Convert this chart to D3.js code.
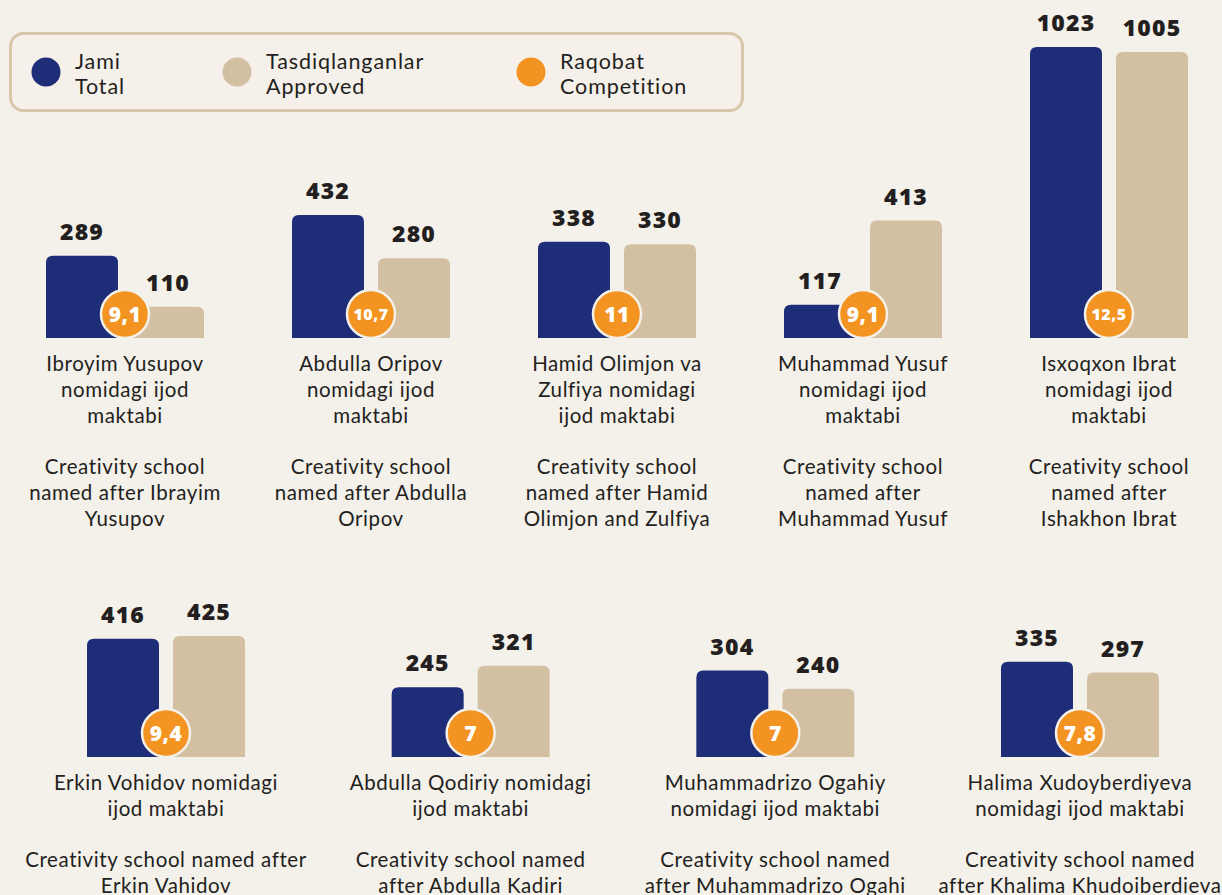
<!DOCTYPE html>
<html>
<head>
<meta charset="utf-8">
<script src="https://cdn.jsdelivr.net/npm/d3@7"></script>
<style>
  body { margin: 0; background: #f4f0ea; }
  svg { display: block; }
</style>
</head>
<body>
<div id="chart"></div>
<script>
// Data
const topUz = [
  ['Ibroyim Yusupov', 'nomidagi ijod', 'maktabi'],
  ['Abdulla Oripov', 'nomidagi ijod', 'maktabi'],
  ['Hamid Olimjon va', 'Zulfiya nomidagi', 'ijod maktabi'],
  ['Muhammad Yusuf', 'nomidagi ijod', 'maktabi'],
  ['Isxoqxon Ibrat', 'nomidagi ijod', 'maktabi']
]
const topEn = [
  ['Creativity school', 'named after Ibrayim', 'Yusupov'],
  ['Creativity school', 'named after Abdulla', 'Oripov'],
  ['Creativity school', 'named after Hamid', 'Olimjon and Zulfiya'],
  ['Creativity school', 'named after', 'Muhammad Yusuf'],
  ['Creativity school', 'named after', 'Ishakhon Ibrat']
]
const topTotal = [289, 432, 338, 117, 1023]
const topApproved = [110, 280, 330, 413, 1005]
const topCompetition = ['9,1', '10,7', '11', '9,1', '12,5']

const bottomUz = [
  ['Erkin Vohidov nomidagi', 'ijod maktabi'],
  ['Abdulla Qodiriy nomidagi', 'ijod maktabi'],
  ['Muhammadrizo Ogahiy', 'nomidagi ijod maktabi'],
  ['Halima Xudoyberdiyeva', 'nomidagi ijod maktabi']
]
const bottomEn = [
  ['Creativity school named after', 'Erkin Vahidov'],
  ['Creativity school named', 'after Abdulla Kadiri'],
  ['Creativity school named', 'after Muhammadrizo Ogahi'],
  ['Creativity school named', 'after Khalima Khudoiberdieva']
]
const bottomTotal = [416, 245, 304, 335]
const bottomApproved = [425, 321, 240, 297]
const bottomCompetition = ['9,4', '7', '7', '7,8']

const seriesKeys = ['total', 'approved']
const legendItems = [
  { key: 'total', lines: ['Jami', 'Total'] },
  { key: 'approved', lines: ['Tasdiqlanganlar', 'Approved'] },
  { key: 'competition', lines: ['Raqobat', 'Competition'] }
]

const colors = { total: '#1e2d78', approved: '#d3c0a2', competition: '#f39322' }
const textColor = '#231f20'
const labelFont = 'Lato, "Open Sans", sans-serif'
const numFont = '"Open Sans", Lato, sans-serif'

// Dimensions
const width = 1222
const height = 895

const svg = d3.select('#chart')
  .append('svg')
  .attr('width', width)
  .attr('height', height)

svg.append('rect')
  .attr('width', width)
  .attr('height', height)
  .attr('fill', '#f4f0ea')

// Scales
const yScale = d3.scaleLinear()
  .domain([0, 1023])
  .range([0, 291])

const inner = d3.scaleBand()
  .domain(seriesKeys)
  .range([-79, 79])
  .paddingInner(0.163)

const topX = d3.scalePoint().domain(d3.range(5)).range([125, 1109])
const bottomX = d3.scalePoint().domain(d3.range(4)).range([166, 1080])

// path with rounded top corners only
function barPath(x, y, w, h, r) {
  r = Math.min(r, h, w / 2)
  return `M${x},${y + h}V${y + r}Q${x},${y} ${x + r},${y}H${x + w - r}Q${x + w},${y} ${x + w},${y + r}V${y + h}Z`
}

function drawRow(xScale, baseline, total, approved, comp, uz, en) {
  const rows = total.map((t, i) => ({ i, total: t, approved: approved[i], comp: comp[i], uz: uz[i], en: en[i] }))

  const groups = svg.append('g')
    .selectAll('g')
    .data(rows)
    .join('g')
    .attr('transform', d => `translate(${xScale(d.i)}, 0)`)

  seriesKeys.forEach(k => {
    groups.append('path')
      .attr('d', d => barPath(inner(k), baseline - yScale(d[k]), inner.bandwidth(), yScale(d[k]), 7))
      .attr('fill', colors[k])

    groups.append('text')
      .attr('x', inner(k) + inner.bandwidth() / 2)
      .attr('y', d => baseline - yScale(d[k]) - 16)
      .attr('text-anchor', 'middle')
      .attr('font-family', numFont)
      .attr('font-weight', 800)
      .attr('font-size', 23)
      .attr('letter-spacing', 1.2)
      .attr('fill', textColor)
      .text(d => d[k])
  })

  // competition circle
  groups.append('circle')
    .attr('cx', 0)
    .attr('cy', baseline - 24)
    .attr('r', 24)
    .attr('fill', colors.competition)
    .attr('stroke', '#f4f0ea')
    .attr('stroke-width', 2.5)

  groups.append('text')
    .attr('x', 0)
    .attr('y', baseline - 24)
    .attr('dy', '0.36em')
    .attr('text-anchor', 'middle')
    .attr('font-family', numFont)
    .attr('font-weight', 800)
    .attr('font-size', d => d.comp.length > 3 ? 16 : 21)
    .attr('letter-spacing', 0.5)
    .attr('fill', '#fff')
    .text(d => d.comp)

  // category labels
  const label = groups.append('text')
    .attr('text-anchor', 'middle')
    .attr('font-family', labelFont)
    .attr('font-size', 20.5)
    .attr('letter-spacing', 0.6)
    .attr('fill', textColor)

  label.each(function (d) {
    const lines = d.uz.concat([''], d.en)
    d3.select(this).selectAll('tspan')
      .data(lines)
      .join('tspan')
      .attr('x', 0)
      .attr('y', (l, j) => baseline + 33 + j * 25.8)
      .text(l => l)
  })
}

drawRow(topX, 338, topTotal, topApproved, topCompetition, topUz, topEn)
drawRow(bottomX, 757, bottomTotal, bottomApproved, bottomCompetition, bottomUz, bottomEn)

// Legend
const legend = svg.append('g')
legend.append('rect')
  .attr('x', 10.5)
  .attr('y', 33.5)
  .attr('width', 732)
  .attr('height', 77)
  .attr('rx', 13)
  .attr('fill', '#f5f0ea')
  .attr('stroke', '#d8c6a8')
  .attr('stroke-width', 3)

const legendX = d3.scaleOrdinal().domain(legendItems.map(d => d.key)).range([46, 237, 531])

const li = legend.selectAll('g.item')
  .data(legendItems)
  .join('g')
  .attr('class', 'item')
  .attr('transform', d => `translate(${legendX(d.key)}, 72)`)

li.append('circle')
  .attr('r', 14.5)
  .attr('fill', d => colors[d.key])

li.append('text')
  .attr('font-family', labelFont)
  .attr('font-size', 21.5)
  .attr('letter-spacing', 0.9)
  .attr('fill', textColor)
  .selectAll('tspan')
  .data(d => d.lines)
  .join('tspan')
  .attr('x', 29)
  .attr('y', (l, j) => -3 + j * 25)
  .text(l => l)
</script>
</body>
</html>
